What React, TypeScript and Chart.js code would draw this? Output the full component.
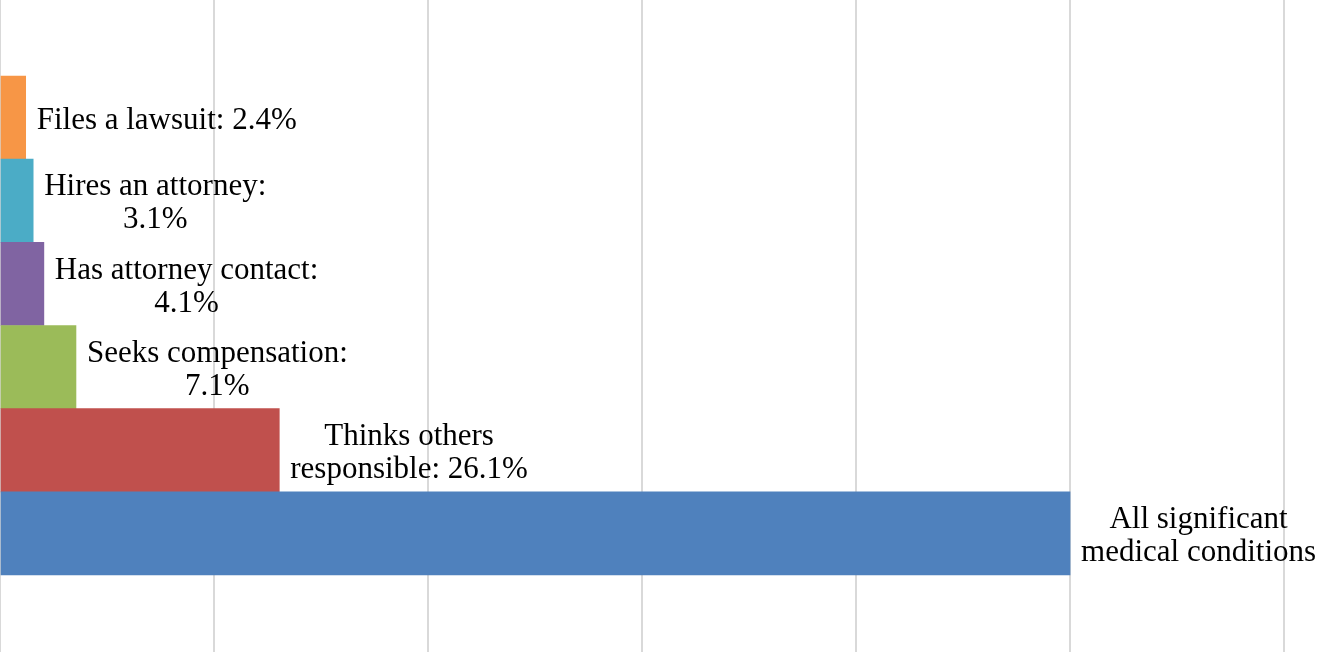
import { useEffect, useRef } from 'react';
import { Chart, registerables } from 'chart.js';

Chart.register(...registerables);

const categories = [
  'Files a lawsuit',
  'Hires an attorney',
  'Has attorney contact',
  'Seeks compensation',
  'Thinks others responsible',
  'All significant medical conditions',
];
const labelLines: string[][] = [
  ['Files a lawsuit: 2.4%'],
  ['Hires an attorney:', '3.1%'],
  ['Has attorney contact:', '4.1%'],
  ['Seeks compensation:', '7.1%'],
  ['Thinks others', 'responsible: 26.1%'],
  ['All significant', 'medical conditions'],
];
const values = [2.4, 3.1, 4.1, 7.1, 26.1, 100];
const colors = ['#F79646', '#4BACC6', '#8064A2', '#9BBB59', '#C0504D', '#4F81BD'];
const gridTicks = [0, 20, 40, 60, 80, 100, 120];

const FONT = '31px "Liberation Serif", serif';

const labelPlugin = {
  id: 'barLabels',
  afterDatasetsDraw(chart: any) {
    const ctx = chart.ctx;
    const meta = chart.getDatasetMeta(0);
    ctx.save();
    ctx.font = FONT;
    ctx.fillStyle = '#000';
    ctx.textAlign = 'center';
    ctx.textBaseline = 'middle';
    const lh = 33;
    meta.data.forEach((el: any, i: number) => {
      const lines = labelLines[i];
      const w = Math.max(...lines.map((l) => ctx.measureText(l).width));
      const cx = el.x + 11 + w / 2;
      const y0 = el.y + 3 - ((lines.length - 1) * lh) / 2;
      lines.forEach((l, j) => ctx.fillText(l, cx, y0 + j * lh));
    });
    ctx.restore();
  },
};

export default function App() {
  const ref = useRef<HTMLCanvasElement>(null);
  useEffect(() => {
    document.body.style.margin = '0';
    const chart = new Chart(ref.current!, {
      type: 'bar',
      data: {
        labels: categories,
        datasets: [
          {
            data: values.map((v, i) => ({ x: v, y: i })) as any,
            backgroundColor: colors,
            borderWidth: 0,
            barPercentage: 1,
            categoryPercentage: 1,
          },
        ],
      },
      options: {
        indexAxis: 'y',
        animation: false,
        responsive: true,
        maintainAspectRatio: false,
        layout: { padding: 0 },
        plugins: { legend: { display: false }, tooltip: { enabled: false } },
        scales: {
          x: {
            type: 'linear',
            min: 0,
            max: 123.64,
            afterBuildTicks: (scale: any) => {
              scale.ticks = gridTicks.map((v) => ({ value: v }));
            },
            ticks: { display: false },
            border: { display: false },
            grid: { color: '#D9D9D9', lineWidth: 2, drawTicks: false },
          },
          y: {
            type: 'linear',
            min: -1.414,
            max: 6.426,
            reverse: true,
            offset: false,
            display: false,
            afterBuildTicks: (scale: any) => {
              scale.ticks = categories.map((_, i) => ({ value: i }));
            },
          },
        },
      },
      plugins: [labelPlugin],
    });
    return () => chart.destroy();
  }, []);
  return (
    <div style={{ width: 1323, height: 652, position: 'relative' }}>
      <canvas ref={ref} />
    </div>
  );
}
